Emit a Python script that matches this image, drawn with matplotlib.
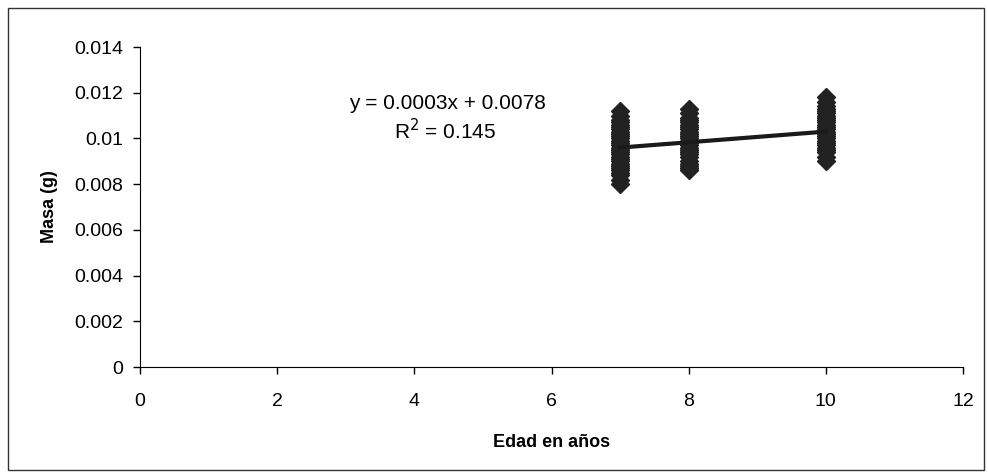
import matplotlib.pyplot as plt
from matplotlib.patches import Rectangle

plt.rcParams['font.family'] = ['Liberation Sans', 'DejaVu Sans']

# masses (g) recorded at each age
edad_7 = [0.0080, 0.0082, 0.0084, 0.0085, 0.0086, 0.0087, 0.0088, 0.0089, 0.0090, 0.0091,
          0.0092, 0.0093, 0.0094, 0.0095, 0.0096, 0.0097, 0.0098, 0.0099, 0.0100, 0.0101,
          0.0102, 0.0103, 0.0104, 0.0105, 0.0106, 0.0107, 0.0108, 0.0110, 0.0112]
edad_8 = [0.0086, 0.0087, 0.0088, 0.0089, 0.0090, 0.0092, 0.0093, 0.0094, 0.0095, 0.0096,
          0.0097, 0.0098, 0.0099, 0.0100, 0.0101, 0.0102, 0.0103, 0.0104, 0.0105, 0.0106,
          0.0107, 0.0108, 0.0109, 0.0111, 0.0113]
edad_10 = [0.0090, 0.0092, 0.0094, 0.0095, 0.0096, 0.0097, 0.0098, 0.0099, 0.0100, 0.0101,
           0.0102, 0.0103, 0.0104, 0.0105, 0.0106, 0.0107, 0.0108, 0.0109, 0.0110, 0.0111,
           0.0112, 0.0113, 0.0114, 0.0116, 0.0118]

trend_x = [7, 10]
trend_y = [0.0096, 0.0103]

fig = plt.figure(figsize=(9.88, 4.74), dpi=100)
ax = fig.add_axes([0.1417, 0.2257, 0.8330, 0.6751])

# frame around the whole chart
fig.patches.append(Rectangle((0.008, 0.008), 0.988, 0.975, transform=fig.transFigure,
                             fill=False, edgecolor='#333333', linewidth=1.0))

for x, vals in [(7, edad_7), (8, edad_8), (10, edad_10)]:
    ax.plot([x] * len(vals), vals, linestyle='none', marker='D', markersize=9,
            color='#222222')
ax.plot(trend_x, trend_y, color='#1a1a1a', linewidth=3)

ax.text(4.48, 0.01155, 'y = 0.0003x + 0.0078', ha='center', va='center', fontsize=15)
ax.text(4.45, 0.01033, 'R$^2$ = 0.145', ha='center', va='center', fontsize=15)

ax.set_xlim(0, 12)
ax.set_ylim(0, 0.014)
ax.set_xticks([0, 2, 4, 6, 8, 10, 12])
ax.set_yticks([0, 0.002, 0.004, 0.006, 0.008, 0.01, 0.012, 0.014])
ax.set_yticklabels(['0', '0.002', '0.004', '0.006', '0.008', '0.01', '0.012', '0.014'])
ax.tick_params(direction='out', length=5, width=1, labelsize=14)
ax.tick_params(axis='x', pad=14)
ax.tick_params(axis='y', pad=7)
ax.spines['top'].set_visible(False)
ax.spines['right'].set_visible(False)
ax.set_xlabel('Edad en años', fontsize=13, fontweight='bold', labelpad=17)
ax.set_ylabel('Masa (g)', fontsize=13, fontweight='bold', labelpad=12)

fig.savefig('out.png', dpi=100)
